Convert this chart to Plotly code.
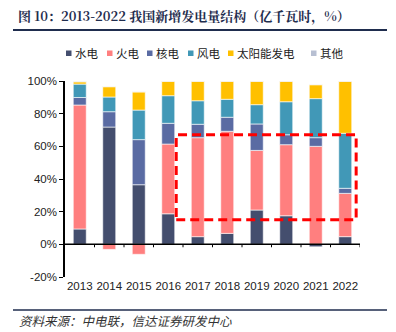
import plotly.graph_objects as go

years = ["2013", "2014", "2015", "2016", "2017", "2018", "2019", "2020", "2021", "2022"]
hydro   = [9.4, 71.8, 36.5, 18.7, 4.7, 6.7, 21.0, 17.5, -1.5, 4.7]
thermal = [75.9, -3.1, -6.1, 42.7, 60.6, 62.5, 36.5, 43.5, 60.0, 26.5]
nuclear = [4.6, 9.4, 27.6, 12.7, 8.2, 8.6, 16.2, 6.1, 5.3, 3.1]
wind    = [8.2, 9.0, 18.1, 16.9, 14.4, 11.0, 11.8, 20.2, 23.9, 33.7]
solar   = [1.4, 6.3, 11.1, 8.8, 11.9, 11.0, 14.3, 12.5, 8.5, 31.8]
other   = [0.3, 0.2, 0.2, 0.2, 0.2, 0.2, 0.2, 0.2, 0.2, 0.2]

names = ["水电", "火电", "核电", "风电", "太阳能发电", "其他"]
colors = ["#444E6E", "#FF7F7F", "#5A6BA3", "#4198B7", "#FFC000", "#B7BFD2"]
values = [hydro, thermal, nuclear, wind, solar, other]

yticks = [-20, 0, 20, 40, 60, 80, 100]
yticklabels = [f"{v}%" for v in yticks]
box_x = [3.27, 9.37]
box_y = [15.1, 67.1]

W, H = 396, 332
L, R, T, B = 65, 36, 81, 55

def px_x(p):
    return (p - L) / (W - L - R)

def px_y(p):
    return (H - B - p) / (H - T - B)

fig = go.Figure()
for name, vals, col in zip(names, values, colors):
    fig.add_trace(go.Bar(x=years, y=vals, name=name, marker_color=col, showlegend=False,
                         marker_line=dict(color="rgba(255,255,255,0.6)", width=1)))

shapes = []
shapes.append(dict(type="line", xref="paper", yref="y", x0=0, x1=1, y0=0, y1=0,
                   line=dict(color="black", width=1.5)))
n = len(years)
for i in range(1, n + 1):
    xb = i - 0.5
    shapes.append(dict(type="line", xref="x", yref="y", x0=xb, x1=xb, y0=0, y1=-1.8,
                       line=dict(color="black", width=1)))
shapes.append(dict(type="rect", xref="x", yref="y", x0=box_x[0], x1=box_x[1],
                   y0=box_y[0], y1=box_y[1],
                   line=dict(color="#FF0000", width=3, dash="9px,5px")))
shapes.append(dict(type="line", xref="paper", yref="paper",
                   x0=px_x(13), x1=px_x(387), y0=px_y(30), y1=px_y(30),
                   line=dict(color="#1F2D4E", width=2)))
shapes.append(dict(type="line", xref="paper", yref="paper",
                   x0=px_x(13), x1=px_x(387), y0=px_y(310), y1=px_y(310),
                   line=dict(color="#1F2D4E", width=1.5)))

leg_x = [66, 107, 147, 188, 228, 311]
for name, col, lx in zip(names, colors, leg_x):
    shapes.append(dict(type="rect", xref="paper", yref="paper",
                       x0=px_x(lx), x1=px_x(lx + 5.5), y0=px_y(56), y1=px_y(50.5),
                       fillcolor=col, line=dict(width=0)))

annotations = [
    dict(text="<b>图 10：2013-2022 我国新增发电量结构（亿千瓦时，%）</b>", xref="paper", yref="paper",
         x=px_x(16), y=px_y(16), xanchor="left", yanchor="middle", showarrow=False,
         font=dict(family="Noto Serif CJK SC, Noto Sans CJK SC", size=13, color="#1F2D4E")),
    dict(text="<i>资料来源：中电联，信达证券研发中心</i>", xref="paper", yref="paper",
         x=px_x(17), y=px_y(320), xanchor="left", yanchor="middle", showarrow=False,
         font=dict(family="Noto Sans CJK SC", size=12.5, color="#333333")),
]
for name, lx in zip(names, leg_x):
    annotations.append(dict(text=name, xref="paper", yref="paper", x=px_x(lx + 6.5), y=px_y(53),
                            xanchor="left", yanchor="middle", showarrow=False,
                            font=dict(family="Noto Sans CJK SC", size=11.5, color="#222222")))

fig.update_layout(
    width=W, height=H, barmode="relative", bargap=0.56,
    margin=dict(l=L, r=R, t=T, b=B, pad=0),
    paper_bgcolor="white", plot_bgcolor="white",
    font=dict(family="Liberation Sans, Arial", size=11, color="#222222"),
    showlegend=False,
    shapes=shapes, annotations=annotations,
    xaxis=dict(type="category", showline=False, ticks="", showgrid=False,
               tickfont=dict(size=11.5), range=[-0.5, n - 0.5]),
    yaxis=dict(range=[-20, 100], tickvals=yticks, ticktext=yticklabels,
               showline=True, linecolor="black", linewidth=1.5, ticks="outside",
               ticklen=4, tickcolor="black", showgrid=False, zeroline=False,
               tickfont=dict(size=11.5)),
)
fig.write_html("out.html")
